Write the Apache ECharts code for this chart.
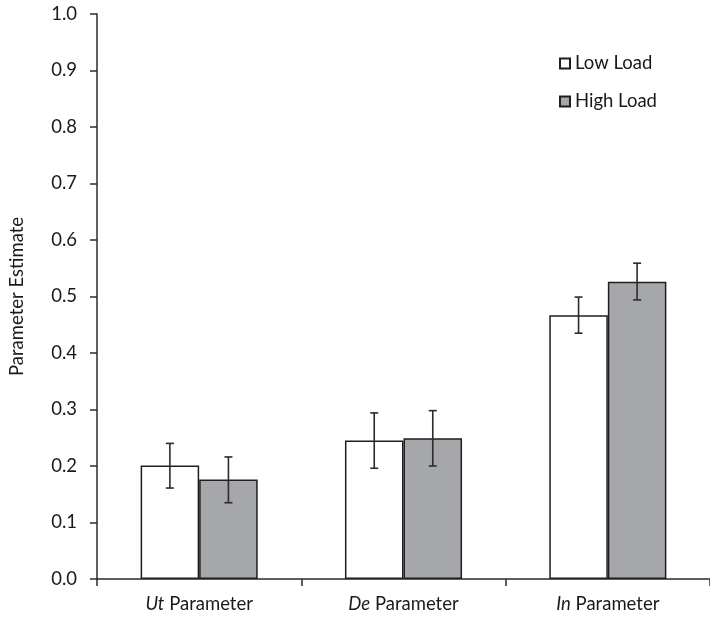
<!DOCTYPE html>
<html><head><meta charset="utf-8">
<script src="https://cdn.jsdelivr.net/npm/echarts@6/dist/echarts.min.js"></script>
<style>html,body{margin:0;padding:0;background:#fff}#c{width:710px;height:617px}</style>
</head><body><div id="c"></div>
<script>
const categories = ['Ut', 'De', 'In'];
const seriesNames = ['Low Load', 'High Load'];
const lowMeans = [0.201, 0.245, 0.467];
const highMeans = [0.176, 0.249, 0.526];
const lowErrLower = [0.161, 0.196, 0.435];
const lowErrUpper = [0.240, 0.294, 0.499];
const highErrLower = [0.135, 0.200, 0.494];
const highErrUpper = [0.216, 0.298, 0.559];
const yTicks = ['0.0','0.1','0.2','0.3','0.4','0.5','0.6','0.7','0.8','0.9','1.0'];

const FONT = 'Lato';
const FS = 18.5;
const BAR_FRAC = 59.3 / 207; // bar width fraction of category
const barWidthPct = (BAR_FRAC * 100).toFixed(2) + '%';

function errSeries(lower, upper, sideSign) {
  return {
    type: 'custom',
    silent: true,
    z: 10,
    data: categories.map((c, i) => [i, lower[i], upper[i]]),
    renderItem: function (params, api) {
      const catW = api.size([1, 0])[0];
      const bw = catW * BAR_FRAC;
      const p1 = api.coord([api.value(0), api.value(1)]);
      const p2 = api.coord([api.value(0), api.value(2)]);
      const x = p1[0] + sideSign * bw / 2;
      const cap = 4;
      const style = { stroke: '#2b2b2b', lineWidth: 1.6 };
      return {
        type: 'group',
        children: [
          { type: 'line', shape: { x1: x, y1: p1[1], x2: x, y2: p2[1] }, style: style },
          { type: 'line', shape: { x1: x - cap, y1: p1[1], x2: x + cap, y2: p1[1] }, style: style },
          { type: 'line', shape: { x1: x - cap, y1: p2[1], x2: x + cap, y2: p2[1] }, style: style }
        ]
      };
    }
  };
}

const chart = echarts.init(document.getElementById('c'));
chart.setOption({
  animation: false,
  backgroundColor: '#fff',
  textStyle: { fontFamily: FONT },
  grid: { left: 97, right: -8, top: 14, bottom: 38, containLabel: false },
  legend: {
    orient: 'vertical',
    left: 554,
    top: 49,
    itemWidth: 10,
    itemHeight: 10,
    itemGap: 19,
    icon: 'rect',
    textStyle: { fontFamily: FONT, fontSize: FS, color: '#1a1a1a' },
    data: seriesNames
  },
  xAxis: {
    type: 'category',
    data: categories,
    axisLine: { lineStyle: { color: '#2b2b2b', width: 1.5 } },
    axisTick: { show: true, length: 7, inside: false, alignWithLabel: false, lineStyle: { color: '#2b2b2b', width: 1.5 } },
    axisLabel: {
      margin: 16,
      fontSize: FS,
      color: '#1a1a1a',
      fontFamily: FONT,
      formatter: function (v) { return '{i|' + v + '} Parameter'; },
      rich: { i: { fontStyle: 'italic', fontSize: FS, fontFamily: FONT, color: '#1a1a1a' } }
    }
  },
  yAxis: {
    type: 'value',
    min: 0, max: 1, interval: 0.1,
    name: 'Parameter Estimate',
    nameLocation: 'middle',
    nameGap: 70,
    nameTextStyle: { fontSize: FS, color: '#1a1a1a', fontFamily: FONT },
    axisLine: { show: true, lineStyle: { color: '#2b2b2b', width: 1.5 } },
    axisTick: { show: true, length: 7, lineStyle: { color: '#2b2b2b', width: 1.5 } },
    splitLine: { show: false },
    axisLabel: {
      margin: 20,
      fontSize: FS,
      color: '#1a1a1a',
      fontFamily: FONT,
      formatter: function (v) { return yTicks[Math.round(v * 10)]; }
    }
  },
  series: [
    {
      name: seriesNames[0], type: 'bar', data: lowMeans, barWidth: barWidthPct, barGap: '0%',
      itemStyle: { color: '#ffffff', borderColor: '#1e1e1e', borderWidth: 1.5 }
    },
    {
      name: seriesNames[1], type: 'bar', data: highMeans, barWidth: barWidthPct, barGap: '0%',
      itemStyle: { color: '#a6a7aa', borderColor: '#1e1e1e', borderWidth: 1.5 }
    },
    errSeries(lowErrLower, lowErrUpper, -1),
    errSeries(highErrLower, highErrUpper, 1)
  ]
});
</script></body></html>
